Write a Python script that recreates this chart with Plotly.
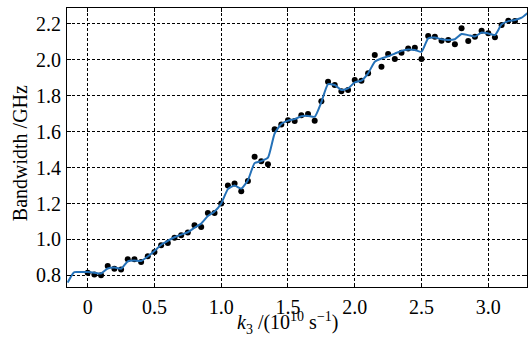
import plotly.graph_objects as go

# measured data points
k3 = [0.00, 0.05, 0.10, 0.15, 0.20, 0.25, 0.30, 0.35, 0.40, 0.45, 0.50, 0.55, 0.60, 0.65,
      0.70, 0.75, 0.80, 0.85, 0.90, 0.95, 1.00, 1.05, 1.10, 1.15, 1.20, 1.25, 1.30, 1.35,
      1.40, 1.45, 1.50, 1.55, 1.60, 1.65, 1.70, 1.75, 1.80, 1.85, 1.90, 1.95, 2.00, 2.05,
      2.10, 2.15, 2.20, 2.25, 2.30, 2.35, 2.40, 2.45, 2.50, 2.55, 2.60, 2.65, 2.70, 2.75,
      2.80, 2.85, 2.90, 2.95, 3.00, 3.05, 3.10, 3.15, 3.20]
bandwidth = [0.815, 0.804, 0.800, 0.852, 0.837, 0.832, 0.889, 0.889, 0.874, 0.906, 0.930,
             0.967, 0.980, 1.010, 1.023, 1.038, 1.079, 1.069, 1.147, 1.147, 1.200, 1.300,
             1.311, 1.268, 1.326, 1.460, 1.436, 1.419, 1.613, 1.640, 1.664, 1.659, 1.692,
             1.698, 1.661, 1.770, 1.878, 1.860, 1.826, 1.832, 1.888, 1.884, 1.925, 2.027,
             1.962, 2.033, 2.005, 2.040, 2.064, 2.068, 2.005, 2.133, 2.129, 2.107, 2.111,
             2.087, 2.176, 2.105, 2.129, 2.162, 2.148, 2.126, 2.194, 2.218, 2.217]

# smoothed fit curve
fit_k3 = [-0.15, -0.12, -0.10, -0.05, 0.00, 0.05, 0.10, 0.15, 0.20, 0.25, 0.30, 0.35, 0.40,
          0.45, 0.50, 0.55, 0.60, 0.65, 0.70, 0.75, 0.80, 0.85, 0.90, 0.95, 1.00, 1.05, 1.10,
          1.15, 1.20, 1.25, 1.30, 1.35, 1.40, 1.45, 1.50, 1.55, 1.60, 1.65, 1.70, 1.75, 1.80,
          1.85, 1.90, 1.95, 2.00, 2.05, 2.10, 2.15, 2.20, 2.25, 2.30, 2.35, 2.40, 2.45, 2.50,
          2.55, 2.60, 2.65, 2.70, 2.75, 2.80, 2.85, 2.90, 2.95, 3.00, 3.05, 3.10, 3.15, 3.20,
          3.25, 3.30]
fit_bw = [0.760, 0.800, 0.818, 0.818, 0.818, 0.815, 0.810, 0.838, 0.843, 0.837, 0.878, 0.882,
          0.880, 0.905, 0.935, 0.970, 0.992, 1.012, 1.027, 1.040, 1.065, 1.088, 1.130, 1.155,
          1.200, 1.280, 1.300, 1.283, 1.330, 1.425, 1.436, 1.455, 1.590, 1.643, 1.662, 1.670,
          1.686, 1.688, 1.683, 1.765, 1.865, 1.860, 1.832, 1.841, 1.875, 1.885, 1.925, 1.990,
          2.008, 2.020, 2.035, 2.050, 2.058, 2.055, 2.045, 2.120, 2.124, 2.115, 2.111, 2.115,
          2.144, 2.138, 2.130, 2.153, 2.147, 2.138, 2.198, 2.216, 2.222, 2.235, 2.265]

x_tickvals = [0, 0.5, 1.0, 1.5, 2.0, 2.5, 3.0]
x_ticktext = ["0", "0.5", "1.0", "1.5", "2.0", "2.5", "3.0"]
y_tickvals = [0.8, 1.0, 1.2, 1.4, 1.6, 1.8, 2.0, 2.2]
y_ticktext = ["0.8", "1.0", "1.2", "1.4", "1.6", "1.8", "2.0", "2.2"]

font_family = "Liberation Serif, DejaVu Serif, serif"

fig = go.Figure()
fig.add_trace(go.Scatter(x=k3, y=bandwidth, mode="markers",
                         marker=dict(color="black", size=6), showlegend=False))
fig.add_trace(go.Scatter(x=fit_k3, y=fit_bw, mode="lines",
                         line=dict(color="#2471b8", width=2, shape="spline", smoothing=0.5),
                         showlegend=False))

axis_common = dict(
    showline=True, linecolor="black", linewidth=1, mirror="ticks",
    ticks="inside", ticklen=4, tickcolor="black",
    showgrid=True, gridcolor="black", gridwidth=1, griddash="3px,2px",
    zeroline=False, automargin=False,
    tickfont=dict(family=font_family, size=20, color="black"),
)

fig.update_xaxes(range=[-0.155, 3.29], tickvals=x_tickvals, ticktext=x_ticktext,
                 ticklabelstandoff=2, **axis_common)
fig.update_yaxes(range=[0.735, 2.289], tickvals=y_tickvals, ticktext=y_ticktext,
                 ticklabelstandoff=1, **axis_common)

fig.update_layout(
    width=528, height=339,
    margin=dict(l=67, r=1, t=8, b=52, autoexpand=False),
    plot_bgcolor="white", paper_bgcolor="white",
    font=dict(family=font_family, color="black"),
    hovermode=False,
    annotations=[
        dict(text="<i>k</i><sub>3</sub> /(10<sup>10</sup> s<sup>−1</sup>)",
             xref="paper", yref="paper", x=0.48, y=-0.072, xanchor="center", yanchor="top",
             showarrow=False, font=dict(family=font_family, size=20, color="black")),
        dict(text="Bandwidth /GHz", textangle=-90,
             xref="paper", yref="paper", x=-0.102, y=0.48, xanchor="center", yanchor="middle",
             showarrow=False, font=dict(family=font_family, size=20, color="black")),
    ],
)

fig.write_html("out.html", config={"displayModeBar": False},
               post_script="document.body.style.margin='0';document.body.style.overflow='hidden';")
